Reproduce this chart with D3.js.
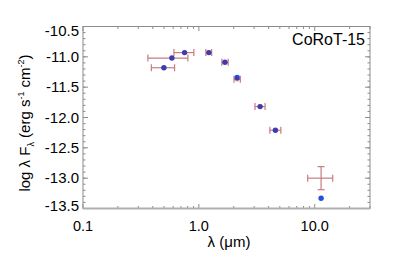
<!DOCTYPE html>
<html>
<head>
<meta charset="utf-8">
<script src="https://cdn.jsdelivr.net/npm/d3@7"></script>
<style>
  body { margin: 0; background: #fff; }
  text { font-family: "Liberation Sans", Arial, sans-serif; fill: #000; }
</style>
</head>
<body>
<div id="chart"></div>
<script>
// observed photometry (wavelength in micron, log lambda F_lambda)
const obsWave   = [0.499, 0.585, 0.753, 1.22, 1.68, 2.14, 3.38, 4.58, 11.35];
const obsWaveLo = [0.389, 0.363, 0.609, 1.15, 1.58, 2.01, 3.05, 4.10, 8.70];
const obsWaveHi = [0.617, 0.804, 0.905, 1.29, 1.79, 2.28, 3.73, 5.10, 14.3];
const obsFlux   = [-11.18, -11.02, -10.93, -10.93, -11.09, -11.37, -11.82, -12.21, -13.00];
const obsFluxErr = [0.02, 0.02, 0.02, 0.02, 0.02, 0.02, 0.02, 0.02, 0.19];
// model fluxes at same wavelengths
const modelFlux = [-11.18, -11.02, -10.93, -10.93, -11.09, -11.34, -11.82, -12.21, -13.33];

const xTickVals = [0.1, 1, 10];
const xTickLabels = ["0.1", "1.0", "10.0"];
const yTickVals = [-10.5, -11.0, -11.5, -12.0, -12.5, -13.0, -13.5];
const starName = "CoRoT-15";

const width = 395, height = 263;
const margin = {left: 83, right: 25, top: 26.5, bottom: 54.5};

const svg = d3.select('#chart')
    .append('svg')
    .attr('width', width)
    .attr('height', height);

svg.append('rect').attr('width', width).attr('height', height).attr('fill', '#fff');

const x = d3.scaleLog()
    .domain([0.1, 30])
    .range([margin.left, width - margin.right]);
const y = d3.scaleLinear()
    .domain([-13.5, -10.5])
    .range([height - margin.bottom, margin.top]);

const x0 = x.range()[0], x1 = x.range()[1];
const y0 = y.range()[0], y1 = y.range()[1];
const axisColor = '#8c8c8c';

// minor tick positions
let xMinor = [];
[0.1, 1, 10].forEach(d => { for (let k = 2; k <= 9; k++) if (d * k <= 30) xMinor.push(d * k); });
let yMinor = d3.range(-13.5, -10.45, 0.1).map(v => +v.toFixed(1));

const g = svg.append('g');

// ticks (inward, all four sides)
function hTicks(vals, len) {
    vals.forEach(v => {
        g.append('line').attr('x1', x(v)).attr('x2', x(v)).attr('y1', y0).attr('y2', y0 - len)
            .attr('stroke', axisColor).attr('stroke-width', 1);
        g.append('line').attr('x1', x(v)).attr('x2', x(v)).attr('y1', y1).attr('y2', y1 + len)
            .attr('stroke', axisColor).attr('stroke-width', 1);
    });
}
function vTicks(vals, len) {
    vals.forEach(v => {
        g.append('line').attr('x1', x0).attr('x2', x0 + len).attr('y1', y(v)).attr('y2', y(v))
            .attr('stroke', axisColor).attr('stroke-width', 1);
        g.append('line').attr('x1', x1).attr('x2', x1 - len).attr('y1', y(v)).attr('y2', y(v))
            .attr('stroke', axisColor).attr('stroke-width', 1);
    });
}
hTicks(xMinor, 2.5);
hTicks(xTickVals, 4.5);
vTicks(yMinor, 2.5);
vTicks(yTickVals, 5);

// frame
g.append('rect')
    .attr('x', x0).attr('y', y1)
    .attr('width', x1 - x0).attr('height', y0 - y1)
    .attr('fill', 'none').attr('stroke', axisColor).attr('stroke-width', 1);
g.append('line').attr('x1', x0).attr('x2', x1).attr('y1', y0).attr('y2', y0)
    .attr('stroke', '#b0b0b0').attr('stroke-width', 2);

// tick labels
g.selectAll('.xlab')
    .data(xTickVals)
    .enter()
    .append('text')
    .attr('x', d => x(d))
    .attr('y', y0 + 22)
    .attr('text-anchor', 'middle')
    .style('font-size', '14.5px')
    .text((d, i) => xTickLabels[i]);

g.selectAll('.ylab')
    .data(yTickVals)
    .enter()
    .append('text')
    .attr('x', x0 - 4)
    .attr('y', (d, i) => y(d) + 5 + (i == 0 ? 4 : 0) + (i == yTickVals.length - 1 ? -3 : 0))
    .attr('text-anchor', 'end')
    .style('font-size', '15px')
    .text(d => d.toFixed(1));

// axis titles
svg.append('text')
    .attr('x', 229)
    .attr('y', 247)
    .attr('text-anchor', 'middle')
    .style('font-size', '15px')
    .text('λ (μm)');

const yt = svg.append('text')
    .attr('transform', 'translate(30,' + 123 + ') rotate(-90)')
    .attr('text-anchor', 'middle')
    .style('font-size', '15px');
yt.append('tspan').text('log λ F');
yt.append('tspan').attr('dy', 4).style('font-size', '9px').text('λ');
yt.append('tspan').attr('dy', -4).text(' (erg s');
yt.append('tspan').attr('dy', -6).style('font-size', '9px').text('-1');
yt.append('tspan').attr('dy', 6).text(' cm');
yt.append('tspan').attr('dy', -6).style('font-size', '9px').text('-2');
yt.append('tspan').attr('dy', 6).text(')');

svg.append('text')
    .attr('x', x1 - 5)
    .attr('y', 45)
    .attr('text-anchor', 'end')
    .style('font-size', '16px')
    .text(starName);

// error bars
const errColor = '#c97a80';
const cap = 3.5;
const pts = obsWave.map((w, i) => ({w: w, lo: obsWaveLo[i], hi: obsWaveHi[i], f: obsFlux[i], e: obsFluxErr[i], m: modelFlux[i]}));
const eb = svg.append('g').attr('stroke', errColor).attr('stroke-width', 1.2).attr('fill', 'none');
pts.forEach(d => {
    eb.append('line').attr('x1', x(d.lo)).attr('x2', x(d.hi)).attr('y1', y(d.f)).attr('y2', y(d.f));
    eb.append('line').attr('x1', x(d.lo)).attr('x2', x(d.lo)).attr('y1', y(d.f) - cap).attr('y2', y(d.f) + cap);
    eb.append('line').attr('x1', x(d.hi)).attr('x2', x(d.hi)).attr('y1', y(d.f) - cap).attr('y2', y(d.f) + cap);
    if (d.e > 0.05) {
        eb.append('line').attr('x1', x(d.w)).attr('x2', x(d.w)).attr('y1', y(d.f - d.e)).attr('y2', y(d.f + d.e));
        eb.append('line').attr('x1', x(d.w) - cap).attr('x2', x(d.w) + cap).attr('y1', y(d.f - d.e)).attr('y2', y(d.f - d.e));
        eb.append('line').attr('x1', x(d.w) - cap).attr('x2', x(d.w) + cap).attr('y1', y(d.f + d.e)).attr('y2', y(d.f + d.e));
    }
});

// model points
svg.selectAll('.model')
    .data(pts)
    .enter()
    .append('circle')
    .attr('cx', d => x(d.w))
    .attr('cy', d => y(d.m))
    .attr('r', 2.7)
    .attr('fill', '#1f50e0');

// observed points (skip the long-wavelength one drawn only as a cross)
svg.selectAll('.obs')
    .data(pts.filter(d => d.e < 0.05))
    .enter()
    .append('circle')
    .attr('cx', d => x(d.w))
    .attr('cy', d => y(d.f))
    .attr('r', 2.3)
    .attr('fill', '#7a2060')
    .attr('opacity', 0.55);
</script>
</body>
</html>
